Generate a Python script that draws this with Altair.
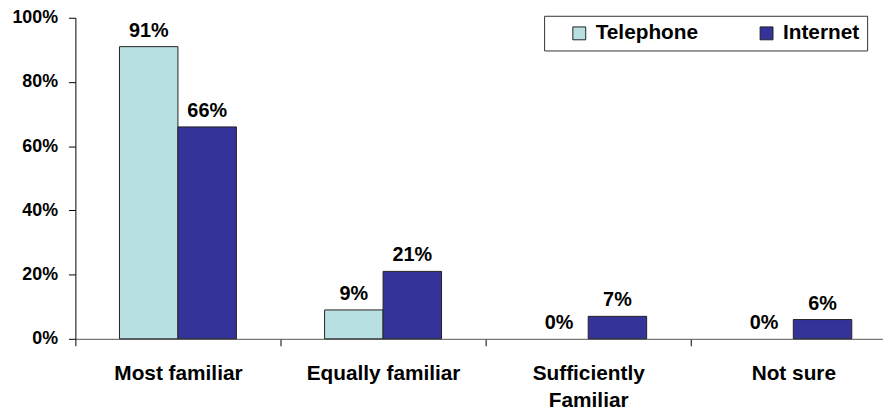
import altair as alt
import pandas as pd

categories = ["Most familiar", "Equally familiar", "Sufficiently Familiar", "Not sure"]
series = ["Telephone", "Internet"]
telephone = [91, 9, 0, 0]
internet = [66, 21, 7, 6]
y_ticks = [0, 20, 40, 60, 80, 100]
colors = ["#B8E0E2", "#333399"]

rows = []
for i, c in enumerate(categories):
    rows.append({"category": c, "series": "Telephone", "value": telephone[i]})
    rows.append({"category": c, "series": "Internet", "value": internet[i]})
df = pd.DataFrame(rows)

FONT = "Liberation Sans"

x_enc = alt.X(
    "category:N",
    sort=categories,
    scale=alt.Scale(range=[0, 828], paddingInner=0, paddingOuter=0),
    axis=alt.Axis(
        title=None,
        labelAngle=0,
        tickBand="extent",
        tickSize=7,
        tickColor="#000",
        domainColor="#555",
        labelFont=FONT,
        labelFontSize=21,
        labelFontWeight="bold",
        labelColor="#000",
        labelPadding=17,
        labelLineHeight=27,
        labelBaseline="top",
        labelExpr="datum.label == 'Sufficiently Familiar' ? ['Sufficiently', 'Familiar'] : datum.label",
    ),
)
xoff_enc = alt.XOffset(
    "series:N", sort=series, scale=alt.Scale(domain=series, paddingInner=0, paddingOuter=0.754)
)
y_enc = alt.Y(
    "value:Q",
    scale=alt.Scale(domain=[0, 100], nice=False),
    axis=alt.Axis(
        title=None,
        values=y_ticks,
        labelExpr="datum.value + '%'",
        grid=False,
        tickSize=7,
        tickColor="#000",
        domainColor="#000",
        labelFont=FONT,
        labelFontSize=18,
        labelFontWeight="bold",
        labelColor="#000",
        labelPadding=11,
    ),
)

bars = alt.Chart(df).mark_bar(stroke="#222", strokeWidth=1).encode(
    x=x_enc,
    xOffset=xoff_enc,
    y=y_enc,
    strokeOpacity=alt.condition("datum.value > 0", alt.value(1), alt.value(0)),
    color=alt.Color(
        "series:N",
        sort=series,
        scale=alt.Scale(domain=series, range=colors),
        legend=alt.Legend(
            title=None,
            orient="none",
            legendX=473,
            legendY=-2,
            direction="horizontal",
            symbolType="square",
            symbolSize=169,
            symbolStrokeColor="#222",
            symbolStrokeWidth=1,
            symbolOffset=18,
            labelOffset=6,
            labelFont=FONT,
            labelFontSize=21,
            labelFontWeight="bold",
            labelColor="#000",
            labelExpr="datum.label == 'Internet' ? datum.label + '\u2002\u2002' : datum.label",
            columnPadding=40,
            padding=7,
            strokeColor="#333",
            fillColor="#fff",
        ),
    ),
)

labels = alt.Chart(df).transform_calculate(
    label="datum.value + '%'"
).mark_text(
    baseline="bottom", dy=-6, font=FONT, fontSize=20, fontWeight="bold", color="#000"
).encode(
    x=alt.X("category:N", sort=categories),
    xOffset=alt.XOffset("series:N", sort=series),
    y="value:Q",
    text="label:N",
)

chart = alt.layer(bars, labels).properties(
    width=815,
    height=324,
    autosize=alt.AutoSizeParams(type="none"),
    padding={"left": 68, "top": 8, "right": 0, "bottom": 72},
).configure_view(stroke=None)

chart.save("out.html", embed_options={"renderer": "svg", "actions": False})
